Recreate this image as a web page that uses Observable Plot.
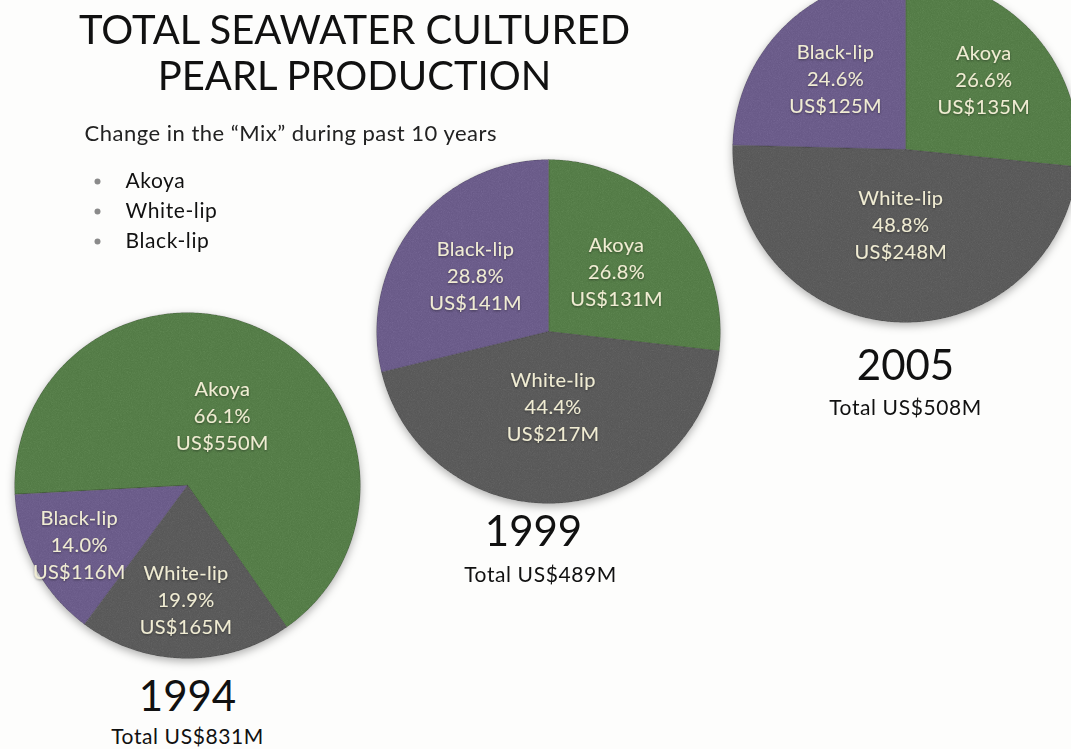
<!DOCTYPE html>
<html>
<head>
<meta charset="utf-8">
<script src="https://cdn.jsdelivr.net/npm/d3@7"></script>
<script src="https://cdn.jsdelivr.net/npm/@observablehq/plot@0.6"></script>
<style>
  html, body { margin: 0; padding: 0; background: #fdfdfc; overflow: hidden; }
  #chart svg { display: block; }
</style>
</head>
<body>
<div id="chart"></div>
<script>
// ---------------- data ----------------
const years = ["1994", "1999", "2005"];
const pearlTypes = ["Akoya", "White-lip", "Black-lip"];
const shares1994 = [66.1, 19.9, 14.0];
const shares1999 = [26.8, 44.4, 28.8];
const shares2005 = [26.6, 48.8, 24.6];
const values1994 = [550, 165, 116];
const values1999 = [131, 217, 141];
const values2005 = [135, 248, 125];
const totals = [831, 489, 508];
const titleLines = ["TOTAL SEAWATER CULTURED", "PEARL PRODUCTION"];
const subtitle = "Change in the \u201CMix\u201D during past 10 years";
const bulletItems = ["Akoya", "White-lip", "Black-lip"];

// ---------------- layout (positions / sizes / styles) ----------------
const W = 1071, H = 749;
const layout = {
  centers: [[187, 485], [548, 331], [905, 149]],
  radius: [173, 172, 173],
  startDeg: [-93, 0, 0],
  labelR: [[0.46, 0.65, 0.71], [0.53, 0.43, 0.54], [0.61, 0.43, 0.58]],
  yearPos: [[187, 697], [533, 532], [905, 366]],
  totalPos: [[187, 737], [540, 575], [905, 408]],
  titlePos: [[354, 31], [354, 77]],
  subtitlePos: [84, 133],
  bulletX: 97, bulletTextX: 125, bulletY: [181, 211, 241]
};
const colors = ["#577f4a", "#5c5c5c", "#6d5e8c"];
const font = "Lato, 'Open Sans', sans-serif";

const shareSets = [shares1994, shares1999, shares2005];
const valueSets = [values1994, values1999, values2005];

// ---------------- build slice polygons and labels ----------------
const slicePts = [];
const sliceLabels = [];
years.forEach((yr, i) => {
  const [cx, cy] = layout.centers[i];
  const r = layout.radius[i];
  const s = layout.startDeg[i] * Math.PI / 180;
  const arcs = d3.pie().sort(null).value(d => d).startAngle(s).endAngle(s + 2 * Math.PI)(shareSets[i]);
  arcs.forEach((a, j) => {
    const key = yr + "-" + pearlTypes[j];
    slicePts.push({key, type: pearlTypes[j], x: cx, y: cy});
    const step = Math.PI / 360;
    for (let t = a.startAngle; t < a.endAngle; t += step) {
      slicePts.push({key, type: pearlTypes[j], x: cx + r * Math.sin(t), y: cy - r * Math.cos(t)});
    }
    slicePts.push({key, type: pearlTypes[j], x: cx + r * Math.sin(a.endAngle), y: cy - r * Math.cos(a.endAngle)});
    const mid = (a.startAngle + a.endAngle) / 2;
    const lr = layout.labelR[i][j] * r;
    sliceLabels.push({
      x: cx + lr * Math.sin(mid), y: cy - lr * Math.cos(mid),
      text: `${pearlTypes[j]}\n${shareSets[i][j].toFixed(1)}%\nUS$${valueSets[i][j]}M`
    });
  });
});

const yearLabels = years.map((yr, i) => ({x: layout.yearPos[i][0], y: layout.yearPos[i][1], text: yr}));
const totalLabels = years.map((yr, i) => ({x: layout.totalPos[i][0], y: layout.totalPos[i][1], text: `Total US$${totals[i]}M`}));
const titleData = titleLines.map((t, i) => ({x: layout.titlePos[i][0], y: layout.titlePos[i][1], text: t}));
const subtitleData = [{x: layout.subtitlePos[0], y: layout.subtitlePos[1], text: subtitle}];
const bullets = bulletItems.map((t, i) => ({x: layout.bulletX, tx: layout.bulletTextX, y: layout.bulletY[i], text: t}));

const plot = Plot.plot({
  width: W, height: H,
  margin: 0,
  x: {type: "identity", axis: null},
  y: {type: "identity", axis: null},
  color: {domain: pearlTypes, range: colors},
  style: {background: "transparent", fontFamily: font},
  marks: [
    Plot.line(slicePts, {x: "x", y: "y", z: "key", fill: "type", stroke: "#2e2e2e", strokeOpacity: 0.3, strokeWidth: 1, curve: "linear-closed"}),
    Plot.text(sliceLabels, {x: "x", y: "y", text: "text", fill: "#f0ecd3", fontSize: 20, lineHeight: 1.35, textAnchor: "middle"}),
    Plot.text(titleData, {x: "x", y: "y", text: "text", fill: "#111", fontSize: 40, textAnchor: "middle"}),
    Plot.text(subtitleData, {x: "x", y: "y", text: "text", fill: "#222", fontSize: 22, textAnchor: "start"}),
    Plot.dot(bullets, {x: "x", y: "y", r: 3, fill: "#8a8a8a"}),
    Plot.text(bullets, {x: "tx", y: "y", text: "text", fill: "#111", fontSize: 21, textAnchor: "start"}),
    Plot.text(yearLabels, {x: "x", y: "y", text: "text", fill: "#111", fontSize: 42, textAnchor: "middle"}),
    Plot.text(totalLabels, {x: "x", y: "y", text: "text", fill: "#111", fontSize: 21, textAnchor: "middle"})
  ]
});

// felt texture + soft drop shadow on the pies
const ns = "http://www.w3.org/2000/svg";
const defs = document.createElementNS(ns, "defs");
defs.innerHTML = `
<filter id="felt" x="-10%" y="-10%" width="120%" height="125%" color-interpolation-filters="sRGB">
  <feTurbulence type="fractalNoise" baseFrequency="1.1" numOctaves="3" seed="7" result="noise"/>
  <feColorMatrix in="noise" type="saturate" values="0" result="gnoise"/>
  <feComposite in="SourceGraphic" in2="gnoise" operator="arithmetic" k1="0" k2="1" k3="0.12" k4="-0.035" result="tex"/>
  <feComposite in="tex" in2="SourceGraphic" operator="in" result="clipped"/>
  <feGaussianBlur in="SourceAlpha" stdDeviation="4"/>
  <feOffset dx="0" dy="3" result="blur"/>
  <feFlood flood-color="#000" flood-opacity="0.3"/>
  <feComposite in2="blur" operator="in" result="shadow"/>
  <feMerge><feMergeNode in="shadow"/><feMergeNode in="clipped"/></feMerge>
</filter>
<filter id="txtshadow" x="-10%" y="-10%" width="120%" height="120%">
  <feDropShadow dx="0" dy="1" stdDeviation="0.8" flood-color="#000" flood-opacity="0.4"/>
</filter>`;
plot.insertBefore(defs, plot.firstChild);
const pies = plot.querySelector('g[aria-label="line"]');
if (pies) pies.setAttribute("filter", "url(#felt)");
const textGroups = plot.querySelectorAll('g[aria-label="text"]');
// order: slice labels, title, subtitle, bullets, years, totals
const spacing = ["0.3px", "0px", "0.5px", "0.6px", "0px", "0.6px"];
textGroups.forEach((g, k) => g.style.letterSpacing = spacing[k] || "0px");
if (textGroups[0]) textGroups[0].setAttribute("filter", "url(#txtshadow)");

document.getElementById("chart").appendChild(plot);
</script>
</body>
</html>
